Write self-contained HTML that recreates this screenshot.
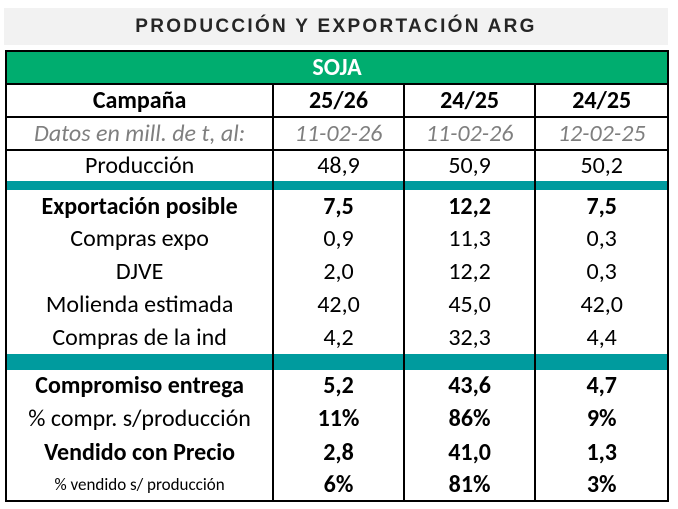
<!DOCTYPE html><html><head><style>
body{margin:0;width:678px;height:509px;background:#fff;font-family:"Liberation Sans",sans-serif;position:relative;overflow:hidden}
.tb{position:absolute;left:4px;top:8px;width:664px;height:37px;background:#f2f2f2;text-align:center;line-height:37px;font-weight:bold;font-size:19px;letter-spacing:2.3px;color:#262626}
table{position:absolute;left:5px;top:50px;border-collapse:collapse;width:664px;border:2px solid #000;font-family:"Carlito","Liberation Sans",sans-serif}
td{padding:0;text-align:center;font-size:24px;color:#000;line-height:1}
td.c{border-left:2px solid #000}
.b td{font-weight:bold}
.g td{background:#00ad6f;color:#fff;font-weight:bold;height:31px;border-bottom:2px solid #000}
.l td{border-bottom:2px solid #000}
.it td{font-style:italic;color:#7f7f7f}
.t td{background:#009b9e;padding:0}
</style></head><body>
<div class="tb">PRODUCCIÓN Y EXPORTACIÓN ARG</div>
<table>
<colgroup><col style="width:268px"><col style="width:131px"><col style="width:132px"><col style="width:133px"></colgroup>
<tr class="g"><td colspan="4">SOJA</td></tr>
<tr class="b l" style="height:33px"><td>Campaña</td><td class="c">25/26</td><td class="c">24/25</td><td class="c">24/25</td></tr>
<tr class="it l" style="height:33px"><td>Datos en mill. de t, al:</td><td class="c">11-02-26</td><td class="c">11-02-26</td><td class="c">12-02-25</td></tr>
<tr style="height:31px"><td>Producción</td><td class="c">48,9</td><td class="c">50,9</td><td class="c">50,2</td></tr>
<tr class="t" style="height:9px"><td></td><td class="c"></td><td class="c"></td><td class="c"></td></tr>
<tr class="b" style="height:33px"><td>Exportación posible</td><td class="c">7,5</td><td class="c">12,2</td><td class="c">7,5</td></tr>
<tr style="height:32px"><td>Compras expo</td><td class="c">0,9</td><td class="c">11,3</td><td class="c">0,3</td></tr>
<tr style="height:33px"><td>DJVE</td><td class="c">2,0</td><td class="c">12,2</td><td class="c">0,3</td></tr>
<tr style="height:33px"><td>Molienda estimada</td><td class="c">42,0</td><td class="c">45,0</td><td class="c">42,0</td></tr>
<tr style="height:33px"><td>Compras de la ind</td><td class="c">4,2</td><td class="c">32,3</td><td class="c">4,4</td></tr>
<tr class="t" style="height:16px"><td></td><td class="c"></td><td class="c"></td><td class="c"></td></tr>
<tr class="b" style="height:32px"><td>Compromiso entrega</td><td class="c">5,2</td><td class="c">43,6</td><td class="c">4,7</td></tr>
<tr style="height:34px"><td>% compr. s/producción</td><td class="c" style="font-weight:bold">11%</td><td class="c" style="font-weight:bold">86%</td><td class="c" style="font-weight:bold">9%</td></tr>
<tr class="b" style="height:33px"><td>Vendido con Precio</td><td class="c">2,8</td><td class="c">41,0</td><td class="c">1,3</td></tr>
<tr style="height:32px"><td style="font-size:17px">% vendido s/ producción</td><td class="c" style="font-weight:bold">6%</td><td class="c" style="font-weight:bold">81%</td><td class="c" style="font-weight:bold">3%</td></tr>
</table>
</body></html>
